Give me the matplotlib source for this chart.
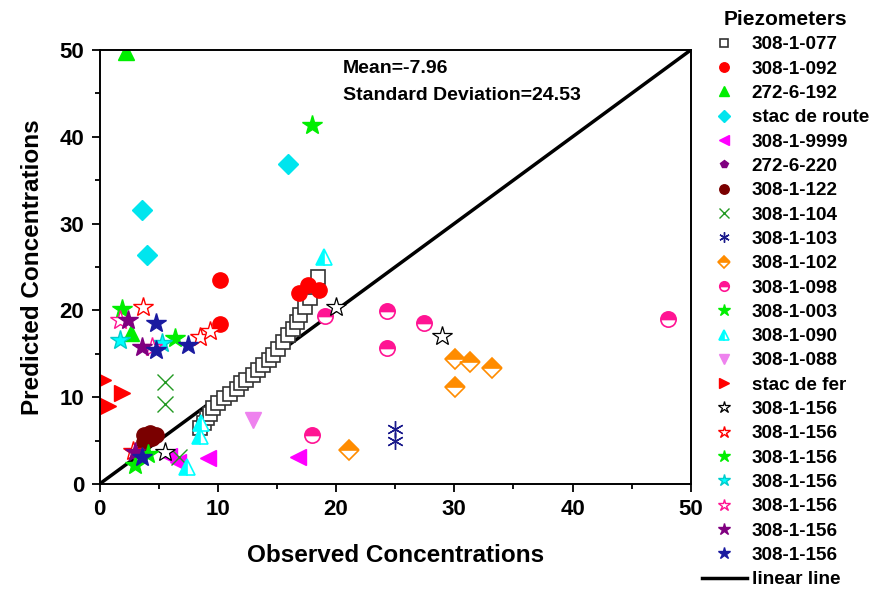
import matplotlib
matplotlib.use("Agg")
import matplotlib.pyplot as plt
from matplotlib.ticker import MultipleLocator

plt.rcParams['font.family'] = ['Liberation Sans', 'DejaVu Sans']
plt.rcParams['font.weight'] = 'bold'

# observed / predicted concentrations for each piezometer
labels = ["308-1-077", "308-1-092", "272-6-192", "stac de route", "308-1-9999",
          "272-6-220", "308-1-122", "308-1-104", "308-1-103", "308-1-102",
          "308-1-098", "308-1-003", "308-1-090", "308-1-088", "stac de fer",
          "308-1-156", "308-1-156", "308-1-156", "308-1-156", "308-1-156",
          "308-1-156", "308-1-156"]

obs_077 = [8.5, 8.8, 9.1, 9.3, 9.6, 10.0, 10.5, 11.0, 11.6, 12.0, 12.4, 13.0, 13.4,
           13.85, 14.3, 14.7, 15.1, 15.5, 15.96, 16.4, 16.7, 16.95, 17.4, 17.8, 18.2, 18.47]
pred_077 = [6.4, 7.0, 7.6, 8.1, 8.7, 9.3, 9.9, 10.4, 11.0, 11.6, 12.0, 12.6, 13.1,
            13.7, 14.3, 14.9, 15.6, 16.4, 17.2, 17.9, 18.7, 19.5, 20.4, 21.4, 22.7, 23.9]
obs_092 = [10.2, 10.2, 16.9, 17.65, 18.6]
pred_092 = [23.5, 18.4, 22.0, 22.9, 22.4]
obs_192 = [2.2, 2.66]
pred_192 = [49.8, 17.4]
obs_route = [15.9, 3.6, 4.0]
pred_route = [36.9, 31.6, 26.4]
obs_9999 = [5.9, 6.6, 9.2, 16.8]
pred_9999 = [3.2, 2.5, 3.0, 3.1]
obs_220 = [3.2]
pred_220 = [3.6]
obs_122 = [3.8, 4.3, 4.8, 3.8, 4.4]
pred_122 = [5.6, 5.9, 5.6, 4.8, 5.3]
obs_104 = [5.5, 5.5, 6.7]
pred_104 = [11.7, 9.2, 3.15]
obs_103 = [25.0, 25.0]
pred_103 = [6.3, 4.95]
obs_102 = [30.1, 31.3, 33.15, 30.1, 21.1]
pred_102 = [14.4, 14.0, 13.4, 11.2, 3.9]
obs_098 = [24.3, 27.4, 24.3, 48.1, 19.1, 18.0]
pred_098 = [19.9, 18.6, 15.7, 19.0, 19.4, 5.7]
obs_003 = [17.96, 1.9, 6.4]
pred_003 = [41.4, 20.2, 16.8]
obs_090 = [8.6, 8.5, 7.4, 19.0]
pred_090 = [7.0, 5.5, 2.0, 26.2]
obs_088 = [13.0]
pred_088 = [7.4]
obs_fer = [0.3, 1.9, 0.75]
pred_fer = [12.0, 10.5, 9.0]
obs_156k = [5.5, 20.0, 29.0]
pred_156k = [3.7, 20.4, 17.0]
obs_156r = [3.7, 8.5, 9.3, 2.8]
pred_156r = [20.4, 16.9, 17.6, 3.8]
obs_156g = [3.0, 4.1]
pred_156g = [2.2, 3.5]
obs_156c = [1.7, 5.3]
pred_156c = [16.6, 16.2]
obs_156p = [1.7, 4.4]
pred_156p = [18.9, 15.8]
obs_156v = [2.4, 3.6, 3.0]
pred_156v = [18.9, 15.8, 3.7]
obs_156b = [4.8, 4.8, 7.5, 3.6]
pred_156b = [18.5, 15.4, 16.0, 3.15]

mean_val = -7.96
std_val = 24.53

series = [
    (obs_077, pred_077, dict(marker='s', ms=10, mfc='white', mec='#333333', mew=1.2)),
    (obs_092, pred_092, dict(marker='o', ms=11, mfc='red', mec='red')),
    (obs_192, pred_192, dict(marker='^', ms=11, mfc='#00ee00', mec='#00ee00')),
    (obs_route, pred_route, dict(marker='D', ms=10, mfc='#00e5ee', mec='#00e5ee')),
    (obs_9999, pred_9999, dict(marker='<', ms=11, mfc='magenta', mec='magenta')),
    (obs_220, pred_220, dict(marker='p', ms=9, mfc='purple', mec='purple')),
    (obs_122, pred_122, dict(marker='o', ms=11, mfc='#7a0000', mec='#7a0000')),
    (obs_104, pred_104, dict(marker='x', ms=11, mfc='none', mec='#229922', mew=1.0)),
    (obs_103, pred_103, dict(marker=(6, 2, 0), ms=12, mfc='none', mec='#1a1a8c', mew=1.0)),
    (obs_102, pred_102, dict(marker='D', ms=10, fillstyle='top', mfc='#ff8c00',
                             mfcalt='white', mec='#ff8c00', mew=1.2)),
    (obs_098, pred_098, dict(marker='o', ms=11, fillstyle='top', mfc='#ff1493',
                             mfcalt='white', mec='#ff1493', mew=1.2)),
    (obs_003, pred_003, dict(marker='*', ms=15, mfc='#00ee00', mec='#00ee00')),
    (obs_090, pred_090, dict(marker='^', ms=11, fillstyle='left', mfc='cyan',
                             mfcalt='white', mec='cyan', mew=1.2)),
    (obs_088, pred_088, dict(marker='v', ms=11, mfc='violet', mec='violet')),
    (obs_fer, pred_fer, dict(marker='>', ms=11, mfc='red', mec='red')),
    (obs_156k, pred_156k, dict(marker='*', ms=15, mfc='white', mec='black', mew=0.9)),
    (obs_156r, pred_156r, dict(marker='*', ms=15, mfc='white', mec='red', mew=1.0)),
    (obs_156g, pred_156g, dict(marker='*', ms=15, mfc='#00ee00', mec='#00ee00')),
    (obs_156c, pred_156c, dict(marker='*', ms=15, mfc='cyan', mec='#00cccc')),
    (obs_156p, pred_156p, dict(marker='*', ms=15, mfc='white', mec='#ff1493', mew=1.0)),
    (obs_156v, pred_156v, dict(marker='*', ms=15, mfc='purple', mec='purple')),
    (obs_156b, pred_156b, dict(marker='*', ms=15, mfc='#1a1aa0', mec='#1a1aa0')),
]

fig = plt.figure(figsize=(8.7, 5.93), dpi=100)
ax = fig.add_axes([0.1144, 0.1838, 0.6796, 0.7319])

for (xs, ys, style), name in zip(series, labels):
    ax.plot(xs, ys, linestyle='none', label=name, clip_on=True, **style)

ax.plot([0, 50], [0, 50], color='black', lw=2.5, label='linear line', zorder=1)

ax.set_xlim(0, 50)
ax.set_ylim(0, 50)
ax.xaxis.set_major_locator(MultipleLocator(10))
ax.xaxis.set_minor_locator(MultipleLocator(5))
ax.yaxis.set_major_locator(MultipleLocator(10))
ax.yaxis.set_minor_locator(MultipleLocator(5))
ax.tick_params(which='major', direction='out', length=6, width=1.3, labelsize=16, pad=5)
ax.tick_params(which='minor', direction='out', length=3.5, width=1.3)
for lab in ax.get_xticklabels() + ax.get_yticklabels():
    lab.set_fontweight('bold')
for sp in ax.spines.values():
    sp.set_linewidth(1.4)

ax.set_xlabel('Observed Concentrations', fontsize=17.5, fontweight='bold', labelpad=17)
ax.set_ylabel('Predicted Concentrations', fontsize=17.5, fontweight='bold', labelpad=11)

ax.text(0.412, 0.9585, f'Mean={mean_val}', transform=ax.transAxes,
        fontsize=14, fontweight='bold', va='center')
ax.text(0.412, 0.896, f'Standard Deviation={std_val}', transform=ax.transAxes,
        fontsize=14, fontweight='bold', va='center')

leg = ax.legend(loc='upper left', bbox_to_anchor=(0.8046, 0.986), bbox_transform=fig.transFigure,
                frameon=False, fontsize=13.6, title='Piezometers', markerscale=0.62,
                labelspacing=0.375, handlelength=2.38, handletextpad=0.26,
                borderpad=0.1, borderaxespad=0.0)
leg.get_title().set_fontweight('bold')
leg.get_title().set_fontsize(15)
for t in leg.get_texts():
    t.set_fontweight('bold')

fig.savefig('out.png', dpi=100)
